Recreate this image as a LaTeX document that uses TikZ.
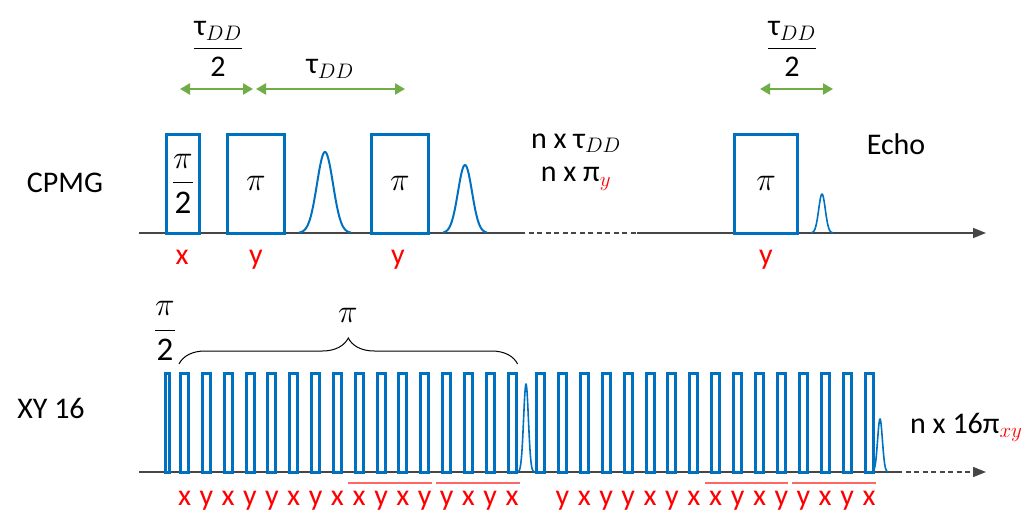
\RequirePackage{fix-cm}
\documentclass[tikz,border=0pt]{standalone}
\usepackage{fontspec}
\setmainfont{Carlito}
\usetikzlibrary{arrows.meta,decorations.pathreplacing,calc}
\definecolor{pblue}{RGB}{0,112,192}
\definecolor{agreen}{RGB}{112,173,71}
\definecolor{axgray}{RGB}{70,70,70}
\definecolor{lred}{RGB}{255,0,0}
\begin{document}
\begin{tikzpicture}[x=1pt,y=-1pt,
 every node/.style={font=\fontsize{30}{35}\selectfont, inner sep=0pt},
 pbox/.style={draw=pblue, line width=3pt, minimum height=99pt},
 sbox/.style={draw=pblue, line width=3pt, minimum width=8pt, minimum height=98.5pt},
 gauss/.style={draw=pblue, line width=2pt, line join=round},
 axisline/.style={draw=axgray, line width=1.6pt},
 axisdash/.style={axisline, dash pattern=on 5pt off 3.5pt},
 axisarrow/.style={-{Triangle[length=13pt,width=10pt]}},
 durarrow/.style={draw=agreen, line width=2.6pt, {Triangle[length=10pt,width=11pt]}-{Triangle[length=10pt,width=11pt]}},
 redlbl/.style={text=lred, anchor=base},
 redbar/.style={draw=lred!60, line width=1.2pt},
 pilbl/.style={font=\fontsize{33}{38}\selectfont},
]
\useasboundingbox (0,0) rectangle (1029,511);

% ---------- CPMG ----------
\node (cpmg) at (65,183) {CPMG};
\coordinate (ta0) at (139,233);
\coordinate (ta1) at (520,233);
\coordinate (ta2) at (637,233);
\coordinate (ta3) at (986,233);
\draw[axisline] (ta0) -- (ta1);
\draw[axisdash] (ta1) -- (ta2);
\draw[axisline, axisarrow] (ta2) -- (ta3);

\node[pbox, minimum width=33pt, pilbl] (p1) at (183,183.5) {$\displaystyle\frac{\pi}{\mbox{2}}$};
\node[pbox, minimum width=57pt, pilbl] (p2) at (256,183.5) {$\pi$};
\node[pbox, minimum width=57pt, pilbl] (p3) at (400,183.5) {$\pi$};
\node[pbox, minimum width=63pt, pilbl] (p4) at (766,183.5) {$\pi$};

\draw[gauss] plot[domain=-26:26, samples=71] ({325+\x},{233-81*exp(-0.5*(\x/8)*(\x/8))});
\draw[gauss] plot[domain=-22:22, samples=61] ({465+\x},{233-68*exp(-0.5*(\x/7)*(\x/7))});
\draw[gauss, line width=1.6pt] plot[domain=-11:11, samples=41] ({822+\x},{233-39*exp(-0.5*(\x/3.3)*(\x/3.3))});

\node[redlbl] (l1) at (182,264) {x};
\node[redlbl] (l2) at (256,264) {y};
\node[redlbl] (l3) at (398,264) {y};
\node[redlbl] (l4) at (766,264) {y};

\coordinate (g1a) at (180,89);
\coordinate (g1b) at (253,89);
\coordinate (g2a) at (256,89);
\coordinate (g2b) at (405,89);
\coordinate (g3a) at (760,89);
\coordinate (g3b) at (833,89);
\draw[durarrow] (g1a) -- (g1b);
\draw[durarrow] (g2a) -- (g2b);
\draw[durarrow] (g3a) -- (g3b);

\node (t1) at (218,49) {$\displaystyle\frac{\mbox{τ}_{DD}}{\mbox{2}}$};
\node (t2) at (330,69) {τ$_{DD}$};
\node (t3) at (792,49) {$\displaystyle\frac{\mbox{τ}_{DD}}{\mbox{2}}$};

\node (ntau) at (576,143) {n x τ$_{DD}$};
\node (npi) at (576,179) {n x π$_{\color{lred}y}$};
\node (echo) at (896,144) {Echo};

% ---------- XY16 ----------
\node (xy) at (51,408) {XY 16};
\coordinate (ba0) at (139,472);
\coordinate (ba1) at (897,472);
\coordinate (ba2) at (986,472);
\draw[axisline] (ba0) -- (ba1);
\draw[axisdash, axisarrow] (ba1) -- (ba2);

\node[sbox, minimum width=4pt] (b0) at (167.5,422.75) {};
\foreach \i in {1,...,16}
  \node[sbox] (b\i) at ({184.5+21.84*(\i-1)},422.75) {};
\foreach \i in {1,...,16}
  \node[sbox] (c\i) at ({540.5+21.9*(\i-1)},422.75) {};

\draw[gauss, line width=1.6pt] plot[domain=-8:8, samples=41] ({526+\x},{472-88*exp(-0.5*(\x/2.4)*(\x/2.4))});
\draw[gauss, line width=1.6pt] plot[domain=-8:8, samples=41] ({880+\x},{472-53*exp(-0.5*(\x/2.4)*(\x/2.4))});

\foreach \l [count=\i] in {x,y,x,y,y,x,y,x,x,y,x,y,y,x,y,x}
  \node[redlbl] (lb\i) at ({184.5+21.84*(\i-1)},505) {\l};
\foreach \l [count=\i from 2] in {y,x,y,y,x,y,x,x,y,x,y,y,x,y,x}
  \node[redlbl] (lc\i) at ({540.5+21.9*(\i-1)},505) {\l};

\draw[redbar] (348,483) -- (432,483);
\draw[redbar] (436,483) -- (520,483);
\draw[redbar] (705,483) -- (788,483);
\draw[redbar] (792,483) -- (876,483);

\draw[decorate, decoration={brace, amplitude=26pt}, line width=1pt]
  ($(b1.north west)+(0,-8)$) -- ($(b16.north east)+(0,-8)$);
\node[pilbl] (bpi) at (348,315) {$\pi$};
\node[pilbl] (bpi2) at (165,331) {$\displaystyle\frac{\pi}{\mbox{2}}$};

\node[anchor=base west] (nxy) at (910,433) {n x 16π$_{\color{lred}xy}$};
\end{tikzpicture}
\end{document}
